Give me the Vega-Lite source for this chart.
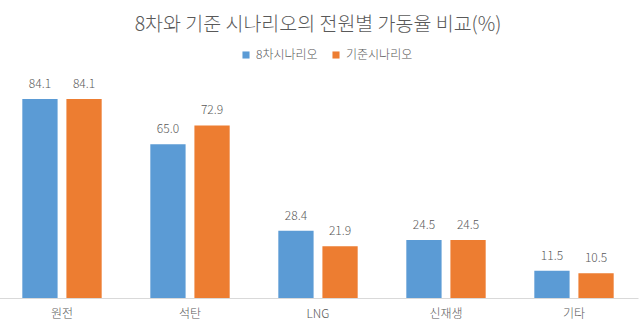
{
  "$schema": "https://vega.github.io/schema/vega-lite/v6.json",
  "width": 640,
  "height": 213,
  "autosize": {"type": "none"},
  "padding": {"left": -2, "top": 85, "right": 2, "bottom": 29},
  "background": "white",
  "config": {
    "view": {"stroke": null},
    "font": "Noto Sans CJK KR"
  },
  "title": {
    "text": "8차와 기준 시나리오의 전원별 가동율 비교(%)",
    "fontSize": 19.5,
    "fontWeight": 300,
    "color": "#595959",
    "font": "Noto Sans CJK KR",
    "anchor": "middle",
    "offset": 14
  },
  "data": {
    "values": [
      {"source": "원전", "scenario": "8차시나리오", "value": 84.1},
      {"source": "원전", "scenario": "기준시나리오", "value": 84.1},
      {"source": "석탄", "scenario": "8차시나리오", "value": 65.0},
      {"source": "석탄", "scenario": "기준시나리오", "value": 72.9},
      {"source": "LNG", "scenario": "8차시나리오", "value": 28.4},
      {"source": "LNG", "scenario": "기준시나리오", "value": 21.9},
      {"source": "신재생", "scenario": "8차시나리오", "value": 24.5},
      {"source": "신재생", "scenario": "기준시나리오", "value": 24.5},
      {"source": "기타", "scenario": "8차시나리오", "value": 11.5},
      {"source": "기타", "scenario": "기준시나리오", "value": 10.5}
    ]
  },
  "encoding": {
    "x": {
      "field": "source",
      "type": "nominal",
      "sort": ["원전", "석탄", "LNG", "신재생", "기타"],
      "scale": {"paddingInner": 0.38, "paddingOuter": 0.19},
      "axis": {
        "title": null,
        "labelAngle": 0,
        "labelFontSize": 12,
        "labelFontWeight": 300,
        "labelColor": "#595959",
        "labelPadding": 10,
        "ticks": false,
        "domainColor": "#D9D9D9",
        "domainWidth": 1
      }
    },
    "xOffset": {
      "field": "scenario",
      "type": "nominal",
      "sort": ["8차시나리오", "기준시나리오"],
      "scale": {"paddingInner": 0.2, "paddingOuter": 0}
    },
    "y": {
      "field": "value",
      "type": "quantitative",
      "scale": {"domain": [0, 90]},
      "axis": null
    }
  },
  "layer": [
    {
      "mark": {"type": "bar"},
      "encoding": {
        "color": {
          "field": "scenario",
          "type": "nominal",
          "sort": ["8차시나리오", "기준시나리오"],
          "scale": {"range": ["#5B9BD5", "#ED7D31"]},
          "legend": {
            "title": null,
            "orient": "none",
            "legendX": 242,
            "legendY": -36,
            "direction": "horizontal",
            "symbolType": "square",
            "symbolSize": 50,
            "labelFontSize": 12,
            "labelFontWeight": 300,
            "labelColor": "#595959",
            "labelOffset": 4,
            "columnPadding": 12
          }
        }
      }
    },
    {
      "mark": {"type": "text", "dy": -15, "fontSize": 12, "fontWeight": 300, "color": "#595959"},
      "encoding": {
        "text": {"field": "value", "type": "quantitative", "format": ".1f"}
      }
    }
  ]
}
